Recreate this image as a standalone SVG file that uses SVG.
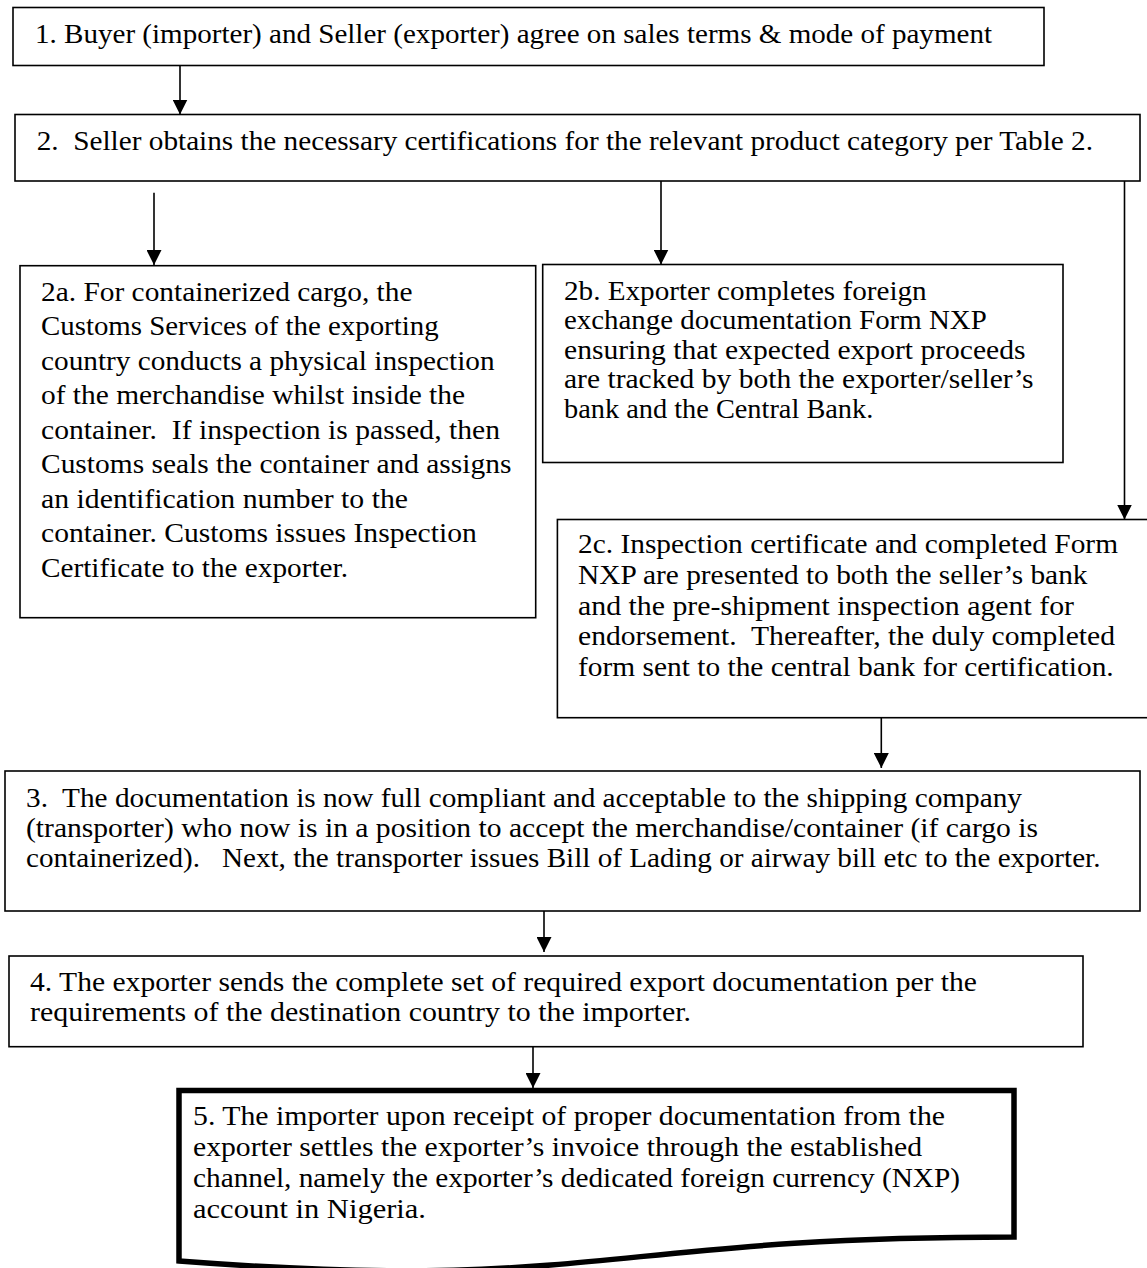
<svg xmlns="http://www.w3.org/2000/svg" width="1147" height="1268" viewBox="0 0 1147 1268">
<style>
  .box { fill: #ffffff; stroke: #000000; stroke-width: 1.6; }
  .thick { fill: #ffffff; stroke: #000000; stroke-width: 5.5; stroke-linejoin: miter; }
  .t { font-family: "Liberation Serif", "Times New Roman", serif; font-size: 27px; fill: #000000; white-space: pre; }
  .conn { stroke: #000000; stroke-width: 1.6; fill: none; marker-end: url(#arr); }
</style>
<defs>
  <marker id="arr" markerUnits="userSpaceOnUse" markerWidth="15" markerHeight="15" viewBox="0 0 15 15" refX="15" refY="7.5" orient="auto">
    <path d="M0,0 L15,7.5 L0,15 Z" fill="#000000"/>
  </marker>
</defs>
<rect width="1147" height="1268" fill="#ffffff"/>

<g id="connectors">
  <line class="conn" x1="180" y1="65.5" x2="180" y2="114.5"/>
  <line class="conn" x1="154" y1="192.7" x2="154" y2="265"/>
  <line class="conn" x1="661" y1="181" x2="661" y2="264.5"/>
  <line class="conn" x1="1124.5" y1="181" x2="1124.5" y2="519.5"/>
  <line class="conn" x1="881.3" y1="717.7" x2="881.3" y2="768"/>
  <line class="conn" x1="544" y1="911" x2="544" y2="952"/>
  <line class="conn" x1="533" y1="1046.7" x2="533" y2="1088"/>
</g>

<g id="node1">
  <rect class="box" x="13" y="7.5" width="1031" height="58"/>
  <text class="t" x="35" y="42.7" textLength="957" lengthAdjust="spacingAndGlyphs">1. Buyer (importer) and Seller (exporter) agree on sales terms &amp; mode of payment</text>
</g>

<g id="node2">
  <rect class="box" x="15" y="114.5" width="1125" height="66.5"/>
  <text class="t" x="36.7" y="150" textLength="1056.3" lengthAdjust="spacingAndGlyphs">2.  Seller obtains the necessary certifications for the relevant product category per Table 2.</text>
</g>

<g id="node2a">
  <rect class="box" x="20" y="265.7" width="515.7" height="352"/>
  <text class="t" x="41" y="300.7" textLength="371.5" lengthAdjust="spacingAndGlyphs">2a. For containerized cargo, the</text>
  <text class="t" x="41" y="335.2" textLength="397.6" lengthAdjust="spacingAndGlyphs">Customs Services of the exporting</text>
  <text class="t" x="41" y="369.7" textLength="453.6" lengthAdjust="spacingAndGlyphs">country conducts a physical inspection</text>
  <text class="t" x="41" y="404.2" textLength="424" lengthAdjust="spacingAndGlyphs">of the merchandise whilst inside the</text>
  <text class="t" x="41" y="438.7" textLength="459" lengthAdjust="spacingAndGlyphs">container.  If inspection is passed, then</text>
  <text class="t" x="41" y="473.2" textLength="470.4" lengthAdjust="spacingAndGlyphs">Customs seals the container and assigns</text>
  <text class="t" x="41" y="507.7" textLength="367" lengthAdjust="spacingAndGlyphs">an identification number to the</text>
  <text class="t" x="41" y="542.2" textLength="435.8" lengthAdjust="spacingAndGlyphs">container. Customs issues Inspection</text>
  <text class="t" x="41" y="576.7" textLength="307" lengthAdjust="spacingAndGlyphs">Certificate to the exporter.</text>
</g>

<g id="node2b">
  <rect class="box" x="542.7" y="264.5" width="520.3" height="198"/>
  <text class="t" x="564" y="300" textLength="362.7" lengthAdjust="spacingAndGlyphs">2b. Exporter completes foreign</text>
  <text class="t" x="564" y="329.4" textLength="422.7" lengthAdjust="spacingAndGlyphs">exchange documentation Form NXP</text>
  <text class="t" x="564" y="358.8" textLength="461.5" lengthAdjust="spacingAndGlyphs">ensuring that expected export proceeds</text>
  <text class="t" x="564" y="388.2" textLength="469.5" lengthAdjust="spacingAndGlyphs">are tracked by both the exporter/seller’s</text>
  <text class="t" x="564" y="417.6" textLength="309.3" lengthAdjust="spacingAndGlyphs">bank and the Central Bank.</text>
</g>

<g id="node2c">
  <rect class="box" x="557.4" y="519.5" width="600" height="198.2"/>
  <text class="t" x="578" y="553.3" textLength="540" lengthAdjust="spacingAndGlyphs">2c. Inspection certificate and completed Form</text>
  <text class="t" x="578" y="584" textLength="509.5" lengthAdjust="spacingAndGlyphs">NXP are presented to both the seller’s bank</text>
  <text class="t" x="578" y="614.7" textLength="496" lengthAdjust="spacingAndGlyphs">and the pre-shipment inspection agent for</text>
  <text class="t" x="578" y="645.4" textLength="537" lengthAdjust="spacingAndGlyphs">endorsement.  Thereafter, the duly completed</text>
  <text class="t" x="578" y="676" textLength="535.7" lengthAdjust="spacingAndGlyphs">form sent to the central bank for certification.</text>
</g>

<g id="node3">
  <rect class="box" x="5" y="771" width="1135" height="140"/>
  <text class="t" x="26" y="806.7" textLength="996" lengthAdjust="spacingAndGlyphs">3.  The documentation is now full compliant and acceptable to the shipping company</text>
  <text class="t" x="26" y="837" textLength="1012" lengthAdjust="spacingAndGlyphs">(transporter) who now is in a position to accept the merchandise/container (if cargo is</text>
  <text class="t" x="26" y="866.7" textLength="1074.5" lengthAdjust="spacingAndGlyphs">containerized).   Next, the transporter issues Bill of Lading or airway bill etc to the exporter.</text>
</g>

<g id="node4">
  <rect class="box" x="9" y="956" width="1074" height="90.7"/>
  <text class="t" x="30" y="991" textLength="947" lengthAdjust="spacingAndGlyphs">4. The exporter sends the complete set of required export documentation per the</text>
  <text class="t" x="30" y="1021" textLength="661" lengthAdjust="spacingAndGlyphs">requirements of the destination country to the importer.</text>
</g>

<g id="node5">
  <path class="thick" d="M179,1090.5 H1014 V1237 C596.5,1237 596.5,1293 179,1261 Z"/>
  <text class="t" x="193" y="1125" textLength="752" lengthAdjust="spacingAndGlyphs">5. The importer upon receipt of proper documentation from the</text>
  <text class="t" x="193" y="1156" textLength="729" lengthAdjust="spacingAndGlyphs">exporter settles the exporter’s invoice through the established</text>
  <text class="t" x="193" y="1187" textLength="767" lengthAdjust="spacingAndGlyphs">channel, namely the exporter’s dedicated foreign currency (NXP)</text>
  <text class="t" x="193" y="1218" textLength="233" lengthAdjust="spacingAndGlyphs">account in Nigeria.</text>
</g>
</svg>
